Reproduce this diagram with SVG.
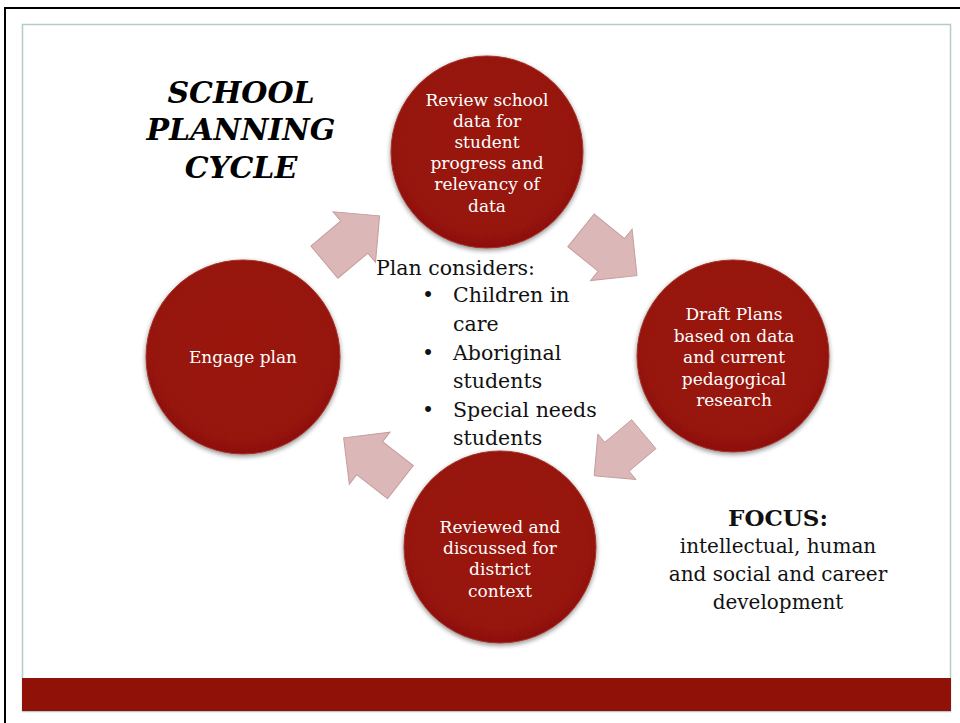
<svg xmlns="http://www.w3.org/2000/svg" width="960" height="723" viewBox="0 0 960 723">
<style>
.circ{fill:url(#cg);stroke:#a3352b;stroke-width:1;filter:url(#sh)}
.ct{font-family:"DejaVu Serif","Liberation Serif",serif;font-size:17px;fill:#ffffff;text-anchor:middle}
.arr{fill:#dbb7b7;stroke:#c69c9c;stroke-width:1}
.bt{font-family:"DejaVu Serif","Liberation Serif",serif;font-size:20.5px;fill:#111}
.ft{font-family:"DejaVu Serif","Liberation Serif",serif;font-size:20px;fill:#111;text-anchor:middle}
.fh{font-size:23px;font-weight:bold}
.tt{font-family:"DejaVu Serif","Liberation Serif",serif;font-size:30px;font-weight:bold;font-style:italic;fill:#000;text-anchor:middle}
</style>
<defs>
<radialGradient id="cg" cx="50%" cy="45%" r="55%">
<stop offset="0" stop-color="#9a1509"/>
<stop offset="0.85" stop-color="#961208"/>
<stop offset="1" stop-color="#8e1108"/>
</radialGradient>
<filter id="sh" x="-20%" y="-20%" width="140%" height="140%">
<feGaussianBlur in="SourceAlpha" stdDeviation="2.5"/>
<feOffset dx="0" dy="2" result="b"/>
<feComponentTransfer><feFuncA type="linear" slope="0.45"/></feComponentTransfer>
<feMerge><feMergeNode/><feMergeNode in="SourceGraphic"/></feMerge>
</filter>
<polygon id="ar" points="-36,-21 3,-21 3,-33 36,0 3,33 3,21 -36,21"/>
</defs>
<rect width="960" height="723" fill="#ffffff"/>
<g id="frame">
<line x1="4" y1="8" x2="960" y2="8" stroke="#000" stroke-width="2"/>
<line x1="5" y1="7" x2="5" y2="723" stroke="#000" stroke-width="2"/>
<rect x="22.5" y="24.5" width="928" height="687" fill="none" stroke="#b4cbcb" stroke-width="1.5"/>
<rect x="22" y="678" width="929" height="33" fill="#8f1108"/>
</g>
<g id="title">
<text class="tt" x="241" y="103">SCHOOL</text>
<text class="tt" x="241" y="140">PLANNING</text>
<text class="tt" x="241" y="178">CYCLE</text>
</g>
<g id="connectors">
<use href="#ar" class="arr" transform="translate(352,239) rotate(-40)"/>
<use href="#ar" class="arr" transform="translate(609,253) rotate(39)"/>
<use href="#ar" class="arr" transform="translate(619,455) rotate(140) scale(0.9)"/>
<use href="#ar" class="arr" transform="translate(372,460) rotate(-142)"/>
</g>
<g id="review">
<circle class="circ" cx="487" cy="152" r="96"/>
<text class="ct" x="487" y="106">Review school</text>
<text class="ct" x="487" y="127">data for</text>
<text class="ct" x="487" y="148">student</text>
<text class="ct" x="487" y="169">progress and</text>
<text class="ct" x="487" y="190">relevancy of</text>
<text class="ct" x="487" y="212">data</text>
</g>
<g id="draft">
<circle class="circ" cx="733" cy="356" r="96"/>
<text class="ct" x="734" y="320">Draft Plans</text>
<text class="ct" x="734" y="342">based on data</text>
<text class="ct" x="734" y="363">and current</text>
<text class="ct" x="734" y="385">pedagogical</text>
<text class="ct" x="734" y="406">research</text>
</g>
<g id="reviewed">
<circle class="circ" cx="500" cy="547" r="96"/>
<text class="ct" x="500" y="533">Reviewed and</text>
<text class="ct" x="500" y="554">discussed for</text>
<text class="ct" x="500" y="575">district</text>
<text class="ct" x="500" y="597">context</text>
</g>
<g id="engage">
<circle class="circ" cx="243" cy="357" r="97"/>
<text class="ct" x="243" y="363">Engage plan</text>
</g>
<g id="considers">
<text class="bt" x="376" y="275">Plan considers:</text>
<text class="bt" x="422" y="302">•</text>
<text class="bt" x="453" y="302">Children in</text>
<text class="bt" x="453" y="331">care</text>
<text class="bt" x="422" y="360">•</text>
<text class="bt" x="453" y="360">Aboriginal</text>
<text class="bt" x="453" y="388">students</text>
<text class="bt" x="422" y="417">•</text>
<text class="bt" x="453" y="417">Special needs</text>
<text class="bt" x="453" y="445">students</text>
</g>
<g id="focus">
<text class="ft fh" x="778" y="526">FOCUS:</text>
<text class="ft" x="778" y="553">intellectual, human</text>
<text class="ft" x="778" y="581">and social and career</text>
<text class="ft" x="778" y="609">development</text>
</g>
</svg>
